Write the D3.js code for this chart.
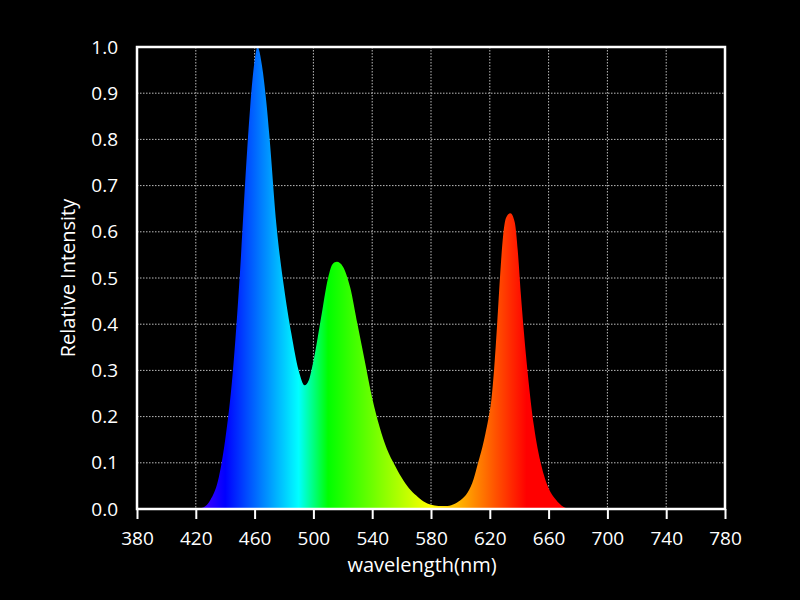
<!DOCTYPE html>
<html>
<head>
<meta charset="utf-8">
<script src="https://cdn.jsdelivr.net/npm/d3@7"></script>
<style>
  body { margin: 0; background: #000; }
  svg { display: block; }
  text { font-family: "Open Sans", "Noto Sans", sans-serif; fill: #fff; }
</style>
</head>
<body>
<svg></svg>
<script>
// spectrum: wavelength (nm) and relative intensity
const wavelengths = [420, 425, 430, 435, 440, 445, 450, 455, 457, 460, 462, 465, 468, 470, 475, 480, 485, 490, 494, 497,
  500, 505, 510, 513, 516, 520, 525, 530, 535, 540, 545, 550, 555, 560, 565, 570, 575, 580, 585, 590,
  595, 600, 605, 609, 612, 615, 617, 619, 621, 623, 625, 627, 629, 631, 634, 637, 639, 641, 643, 645, 650, 655, 660, 665, 670, 675];
const intensity = [0, 0.003, 0.02, 0.06, 0.15, 0.29, 0.51, 0.78, 0.87, 0.97, 1.0, 0.96, 0.88, 0.81, 0.61, 0.48, 0.38, 0.30, 0.268, 0.28,
  0.32, 0.41, 0.50, 0.53, 0.535, 0.525, 0.48, 0.40, 0.32, 0.24, 0.178, 0.13, 0.097, 0.068, 0.045, 0.029, 0.016, 0.009, 0.0065, 0.0065,
  0.010, 0.019, 0.036, 0.065, 0.10, 0.135, 0.163, 0.195, 0.235, 0.305, 0.40, 0.505, 0.59, 0.63, 0.64, 0.62, 0.56, 0.47, 0.39, 0.32, 0.18, 0.095, 0.045, 0.02, 0.005, 0];

const xTicks = [380, 420, 460, 500, 540, 580, 620, 660, 700, 740, 780];
const yTicks = [0, 0.1, 0.2, 0.3, 0.4, 0.5, 0.6, 0.7, 0.8, 0.9, 1.0];

const data = wavelengths.map((w, i) => ({ w: w, v: intensity[i] }));

const svgWidth = 800;
const svgHeight = 600;
const margin = { top: 47, right: 75, bottom: 91, left: 137 };
const width = svgWidth - margin.left - margin.right;
const height = svgHeight - margin.top - margin.bottom;

const svg = d3.select('svg')
  .attr('width', svgWidth)
  .attr('height', svgHeight);

const g = svg.append('g')
  .attr('transform', 'translate(' + margin.left + ',' + margin.top + ')');

const xScale = d3.scaleLinear().domain([380, 780]).range([0, width]);
const yScale = d3.scaleLinear().domain([0, 1]).range([height, 0]);

// wavelength -> rgb (Bruton's approximation)
function waveColor(w) {
  let r = 0, gr = 0, b = 0;
  if (w < 440) { r = (440 - w) / 60; b = 1; }
  else if (w < 490) { gr = (w - 440) / 50; b = 1; }
  else if (w < 510) { gr = 1; b = (510 - w) / 20; }
  else if (w < 580) { r = (w - 510) / 70; gr = 1; }
  else if (w < 645) { r = 1; gr = (645 - w) / 65; }
  else { r = 1; }
  let f = 1;
  if (w < 420) f = 0.3 + 0.7 * (w - 380) / 40;
  else if (w > 700) f = 0.3 + 0.7 * (780 - w) / 80;
  return d3.rgb(255 * r * f, 255 * gr * f, 255 * b * f).formatHex();
}

const grad = svg.append('defs').append('linearGradient')
  .attr('id', 'spectrum')
  .attr('gradientUnits', 'userSpaceOnUse')
  .attr('x1', xScale(380)).attr('x2', xScale(780))
  .attr('y1', 0).attr('y2', 0);

grad.selectAll('stop')
  .data(d3.range(380, 781, 5))
  .join('stop')
  .attr('offset', (d) => (d - 380) / 400)
  .attr('stop-color', (d) => waveColor(d));

// grid
g.append('g')
  .selectAll('line')
  .data(xTicks.slice(1, -1))
  .join('line')
  .attr('x1', (d) => xScale(d)).attr('x2', (d) => xScale(d))
  .attr('y1', 0).attr('y2', height)
  .attr('stroke', '#bbb')
  .attr('stroke-width', 1)
  .attr('stroke-dasharray', '1.5,1.5');

g.append('g')
  .selectAll('line')
  .data(yTicks.slice(1, -1))
  .join('line')
  .attr('x1', 0).attr('x2', width)
  .attr('y1', (d) => yScale(d)).attr('y2', (d) => yScale(d))
  .attr('stroke', '#bbb')
  .attr('stroke-width', 1)
  .attr('stroke-dasharray', '1.5,1.5');

const area = d3.area()
  .x((d) => xScale(d.w))
  .y0(height)
  .y1((d) => yScale(d.v))
  .curve(d3.curveMonotoneX);

g.append('path')
  .datum(data)
  .attr('fill', 'url(#spectrum)')
  .attr('d', area);

// axes
const xAxis = g.append('g')
  .attr('transform', 'translate(0,' + height + ')')
  .call(d3.axisBottom(xScale).tickValues(xTicks).tickSize(10).tickPadding(13).tickFormat(d3.format('d')));
xAxis.select('.domain').remove();
xAxis.selectAll('line').attr('stroke', '#fff').attr('stroke-width', 2);
xAxis.selectAll('text').attr('fill', '#fff').style('font-size', '19px');

const yAxis = g.append('g')
  .call(d3.axisLeft(yScale).tickValues(yTicks).tickSize(0).tickPadding(19).tickFormat(d3.format('.1f')));
yAxis.select('.domain').remove();
yAxis.selectAll('text').attr('fill', '#fff').style('font-size', '19px');

g.append('rect')
  .attr('width', width)
  .attr('height', height)
  .attr('fill', 'none')
  .attr('stroke', '#fff')
  .attr('stroke-width', 2.5);

g.append('text')
  .attr('x', 285)
  .attr('y', height + 63)
  .attr('text-anchor', 'middle')
  .style('font-size', '20px')
  .text('wavelength(nm)');

g.append('text')
  .attr('transform', 'rotate(-90)')
  .attr('x', -height / 2)
  .attr('y', -62)
  .attr('text-anchor', 'middle')
  .style('font-size', '20px')
  .text('Relative Intensity');
</script>
</body>
</html>
